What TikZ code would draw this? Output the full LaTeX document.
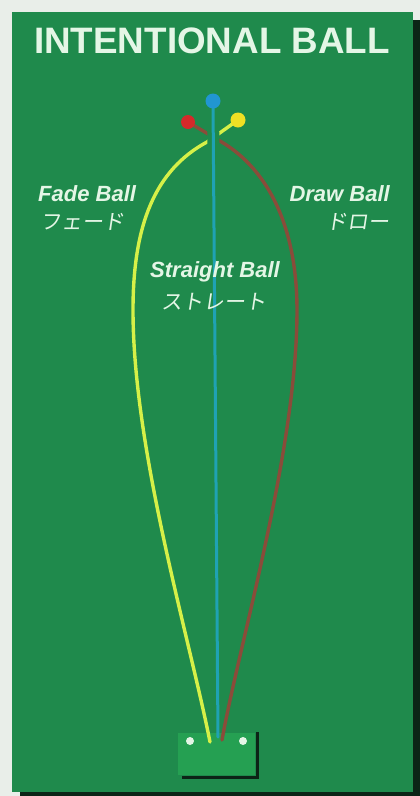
\documentclass[tikz,border=0pt]{standalone}
\usepackage{fontspec}
\setmainfont{Liberation Sans}
\newfontfamily\jpfont[FakeSlant=0.15]{Noto Sans CJK JP}
\definecolor{bgpaper}{HTML}{E9EEE9}
\definecolor{felt}{HTML}{1F8A4C}
\definecolor{teegreen}{HTML}{25A052}
\definecolor{shadowc}{HTML}{0C2416}
\definecolor{txt}{HTML}{E4F6E6}
\definecolor{fadec}{HTML}{D6F048}
\definecolor{drawc}{HTML}{8A4C3A}
\definecolor{straightc}{HTML}{1FA2B4}
\definecolor{bluebal}{HTML}{2196D2}
\definecolor{redbal}{HTML}{D42A2A}
\definecolor{yelbal}{HTML}{F0E024}
\begin{document}
\begin{tikzpicture}[x=1pt,y=-1pt,
  lbl/.style={text=txt,inner sep=0pt,font=\fontsize{22}{22}\selectfont\bfseries\itshape},
  jlbl/.style={text=txt,inner sep=0pt,font=\fontsize{21}{21}\selectfont\jpfont},
  flight/.style={line width=3.4pt,line cap=round,line join=round},
  ball/.style={circle,inner sep=0pt}]
\useasboundingbox (0,0) rectangle (420,796);
\fill[bgpaper] (0,0) rectangle (420,796);
% shadow
\fill[shadowc] (20,20) rectangle (420,796);
\fill[felt] (12,12) rectangle (413,792);
% title
\node[anchor=base,text=txt,inner sep=0pt,font=\fontsize{36.8}{36.8}\selectfont\bfseries] (title) at (212,53) {INTENTIONAL BALL};
% tee box
\fill[teegreen] (178,733) rectangle (255,775);
\draw[shadowc,line width=3pt] (257,732) -- (257,777) -- (182,777);
\node[ball,fill=txt,minimum size=8pt] (tl) at (190,741) {};
\node[ball,fill=txt,minimum size=8pt] (tr) at (243,741) {};
% balls & ends
\coordinate (yb) at (238,120);
\coordinate (rb) at (188,122);
\coordinate (bb) at (213,101);
\coordinate (ye) at (210,742);
\coordinate (re) at (222,740);
\coordinate (be) at (218,737);
% fade (yellow)
\draw[flight,fadec] (yb) -- (207,142) .. controls (155,170) and (133,225) .. (133,310)
  .. controls (133,450) and (190,640) .. (ye);
% draw (brown)
\draw[flight,drawc] (rb) -- (220,141) .. controls (270,170) and (297,230) .. (297,310)
  .. controls (297,450) and (240,640) .. (re);
% halo around straight line at crossing
\draw[felt,line width=12pt] (213.2,127) -- (213.4,147);
% straight (blue)
\draw[line width=3pt,line cap=round,straightc] (bb) -- (be);
% balls
\node[ball,fill=bluebal,minimum size=15pt] (bball) at (bb) {};
\node[ball,fill=redbal,minimum size=14pt] (rball) at (rb) {};
\node[ball,fill=yelbal,minimum size=15pt] (yball) at (yb) {};
% labels
\node[lbl,anchor=base west] (fade) at (38,201) {Fade Ball};
\node[jlbl,anchor=center] (fadej) at (83,222) {フェード};
\node[lbl,anchor=base east] (draw) at (390,201) {Draw Ball};
\node[jlbl,anchor=east] (drawj) at (390,222) {ドロー};
\node[lbl,anchor=base] (str) at (215,277) {Straight Ball};
\node[jlbl,anchor=center] (strj) at (214,302) {ストレート};
\end{tikzpicture}
\end{document}
